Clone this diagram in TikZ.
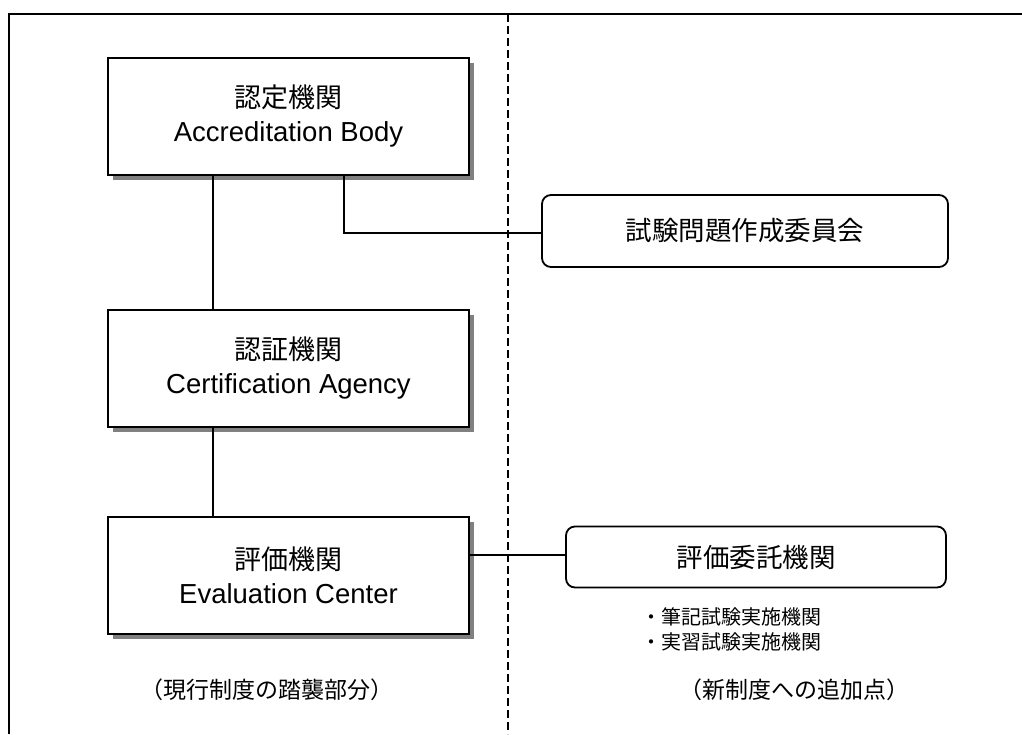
\documentclass[tikz,border=0pt]{standalone}
\usepackage{fontspec}
\setmainfont{Liberation Sans}
\newfontfamily\jp{Noto Sans CJK JP}
\begin{document}
\begin{tikzpicture}[x=1pt,y=-1pt,
  orgbox/.style={draw=black, line width=1.8pt, fill=white, minimum width=361pt,
    minimum height=117pt, align=center, inner sep=0pt, font=\fontsize{27.5}{33}\selectfont},
  jplabel/.style={font=\jp\fontsize{27}{30}\selectfont},
  roundbox/.style={draw=black, line width=1.8pt, fill=white, rounded corners=9pt,
    inner sep=0pt, font=\jp\fontsize{26.5}{30}\selectfont},
  link/.style={line width=1.5pt},
  shade/.style={fill=black!50, draw=none},
  note/.style={font=\jp\fontsize{20}{24}\selectfont, anchor=west, inner sep=0pt},
  caption/.style={font=\jp\fontsize{23}{26}\selectfont, inner sep=0pt}]
\useasboundingbox (0,0) rectangle (1022,734);
\fill[white] (0,0) rectangle (1022,734);

% outer frame (top and left edges)
\draw[line width=2.4pt] (1022,14) -- (9,14) -- (9,734);

% divider between current and new parts
\draw[line width=1.8pt, dash pattern=on 8pt off 4pt] (508,14) -- (508,734);

% drop shadows of the three organisation boxes
\fill[shade] (113,63) rectangle (474,180);
\fill[shade] (113,315) rectangle (474,432);
\fill[shade] (113,522) rectangle (474,639);

% organisation boxes
\node[orgbox] (ab) at (288.5,116.5) {{\jp\fontsize{27}{30}\selectfont 認定機関}\\[1pt]Accreditation Body};
\node[orgbox] (ca) at (288.5,368.5) {{\jp\fontsize{27}{30}\selectfont 認証機関}\\[1pt]Certification Agency};
\node[orgbox] (ec) at (288.5,575.5) {{\jp\fontsize{27}{30}\selectfont 評価機関}\\[1pt]Evaluation Center};

% additional bodies
\node[roundbox, minimum width=406pt, minimum height=72pt] (qc) at (745,231) {試験問題作成委員会};
\node[roundbox, minimum width=380pt, minimum height=61pt] (ea) at (756,557) {評価委託機関};

% connectors
\draw[link] (ab.south -| 213,0) -- (ca.north -| 213,0);
\draw[link] (ca.south -| 213,0) -- (ec.north -| 213,0);
\coordinate (bend) at (344,233);
\draw[link] (ab.south -| bend) -- (bend) -- (bend -| qc.west);
\draw[link] (ec.east |- 0,555) -- (ea.west |- 0,555);

% notes under the delegated evaluation body
\node[note] (n1) at (641,617) {・筆記試験実施機関};
\node[note] (n2) at (641,642) {・実習試験実施機関};

% column captions
\node[caption] (c1) at (267,690) {（現行制度の踏襲部分）};
\node[caption] (c2) at (794,690) {（新制度への追加点）};
\end{tikzpicture}
\end{document}
